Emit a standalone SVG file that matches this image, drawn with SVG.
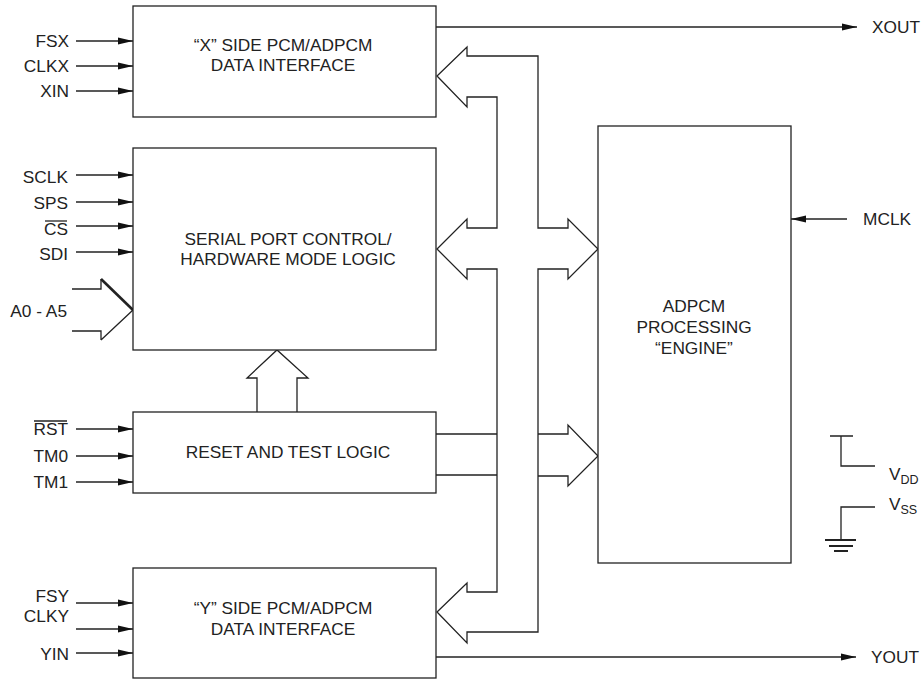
<svg xmlns="http://www.w3.org/2000/svg" width="924" height="681" viewBox="0 0 924 681">
<defs>
<style>
.box{fill:#fff;stroke:#222;stroke-width:1.3}
.ln{fill:none;stroke:#222;stroke-width:1.3}
.t{font-family:"Liberation Sans",Arial,Helvetica,sans-serif;font-size:17.3px;fill:#222}
.c{text-anchor:middle}
.e{text-anchor:end}
</style>
<marker id="ah" markerUnits="userSpaceOnUse" markerWidth="16" markerHeight="8" refX="15" refY="4" orient="auto">
<path d="M0,0.5 L15,4 L0,7.5 Z" fill="#111"/>
</marker>
</defs>
<rect width="924" height="681" fill="#fff"/>

<g id="connectors">
<path class="ln" d="M497,228 L497,97 L467,97 L467,107 L437,76 L467,47 L467,56 L538,56 L538,228 L568,228 L568,219 L598,249 L568,279 L568,269 L538,269 L538,632 L467,632 L467,643 L437,612 L467,583 L467,592 L497,592 L497,269 L467,269 L467,279 L437,249 L467,219 L467,228 Z"/>
<path class="ln" d="M538,434 L568,434 L568,425 L598,456 L568,486 L568,476 L538,476"/>
<path class="ln" d="M436,434 L497,434 M436,475 L497,475"/>
<path class="ln" d="M257,412 L257,378 L247,378 L277,350 L308,378 L297,378 L297,412"/>
<path class="ln" d="M72,289 L101,289 L101,279 M101,340 L101,331 L72,331 M133,310 L101,340"/>
<path class="ln" d="M101,279 L133,310" style="stroke-width:2.6"/>
<g class="ln" marker-end="url(#ah)">
<line x1="76" y1="41" x2="133" y2="41"/>
<line x1="76" y1="66" x2="133" y2="66"/>
<line x1="76" y1="91" x2="133" y2="91"/>
<line x1="76" y1="175" x2="133" y2="175"/>
<line x1="76" y1="202" x2="133" y2="202"/>
<line x1="76" y1="226" x2="133" y2="226"/>
<line x1="76" y1="252" x2="133" y2="252"/>
<line x1="76" y1="429" x2="133" y2="429"/>
<line x1="76" y1="456" x2="133" y2="456"/>
<line x1="76" y1="482" x2="133" y2="482"/>
<line x1="76" y1="603" x2="133" y2="603"/>
<line x1="76" y1="629" x2="133" y2="629"/>
<line x1="76" y1="653" x2="133" y2="653"/>
<line x1="436" y1="27" x2="857" y2="27"/>
<line x1="436" y1="657" x2="856" y2="657"/>
<line x1="847" y1="219" x2="791" y2="219"/>
</g>
<path class="ln" d="M830,436 L853,436 M841,436 L841,466 L875,466 M875,507 L841,507 L841,540"/>
<path class="ln" d="M825,540 L856,540 M829,546 L853,546 M834,551 L848,551" style="stroke-width:2"/>
</g>

<g id="x-side">
<rect class="box" x="133" y="6" width="303" height="111"/>
<text class="t c" x="283" y="51">“X” SIDE PCM/ADPCM</text>
<text class="t c" x="283" y="71">DATA INTERFACE</text>
</g>
<g id="serial-port">
<rect class="box" x="133" y="148" width="303" height="202"/>
<text class="t c" x="288" y="245">SERIAL PORT CONTROL/</text>
<text class="t c" x="288" y="265">HARDWARE MODE LOGIC</text>
</g>
<g id="reset-test">
<rect class="box" x="133" y="412" width="303" height="81"/>
<text class="t c" x="288" y="458">RESET AND TEST LOGIC</text>
</g>
<g id="y-side">
<rect class="box" x="133" y="568" width="303" height="110"/>
<text class="t c" x="283" y="614">“Y” SIDE PCM/ADPCM</text>
<text class="t c" x="283" y="635">DATA INTERFACE</text>
</g>
<g id="engine">
<rect class="box" x="598" y="126" width="193" height="437"/>
<text class="t c" x="694" y="312">ADPCM</text>
<text class="t c" x="694" y="333">PROCESSING</text>
<text class="t c" x="694" y="354">“ENGINE”</text>
</g>

<g id="labels">
<text class="t e" x="69" y="47">FSX</text>
<text class="t e" x="69" y="72">CLKX</text>
<text class="t e" x="69" y="97">XIN</text>
<text class="t e" x="68" y="183">SCLK</text>
<text class="t e" x="68" y="209">SPS</text>
<text class="t e" x="68" y="235">CS</text>
<line class="ln" x1="45" y1="221" x2="67" y2="221"/>
<text class="t e" x="68" y="260">SDI</text>
<text class="t e" x="67" y="317">A0 - A5</text>
<text class="t e" x="68" y="435">RST</text>
<line class="ln" x1="34" y1="421" x2="67" y2="421"/>
<text class="t e" x="68" y="462">TM0</text>
<text class="t e" x="68" y="488">TM1</text>
<text class="t e" x="69" y="602">FSY</text>
<text class="t e" x="69" y="622">CLKY</text>
<text class="t e" x="69" y="660">YIN</text>
<text class="t" x="872" y="33">XOUT</text>
<text class="t" x="863" y="225">MCLK</text>
<text class="t" x="871" y="663">YOUT</text>
<text class="t" x="889" y="480">V<tspan font-size="12.5" dy="4">DD</tspan></text>
<text class="t" x="889" y="510">V<tspan font-size="12.5" dy="4">SS</tspan></text>
</g>
</svg>
